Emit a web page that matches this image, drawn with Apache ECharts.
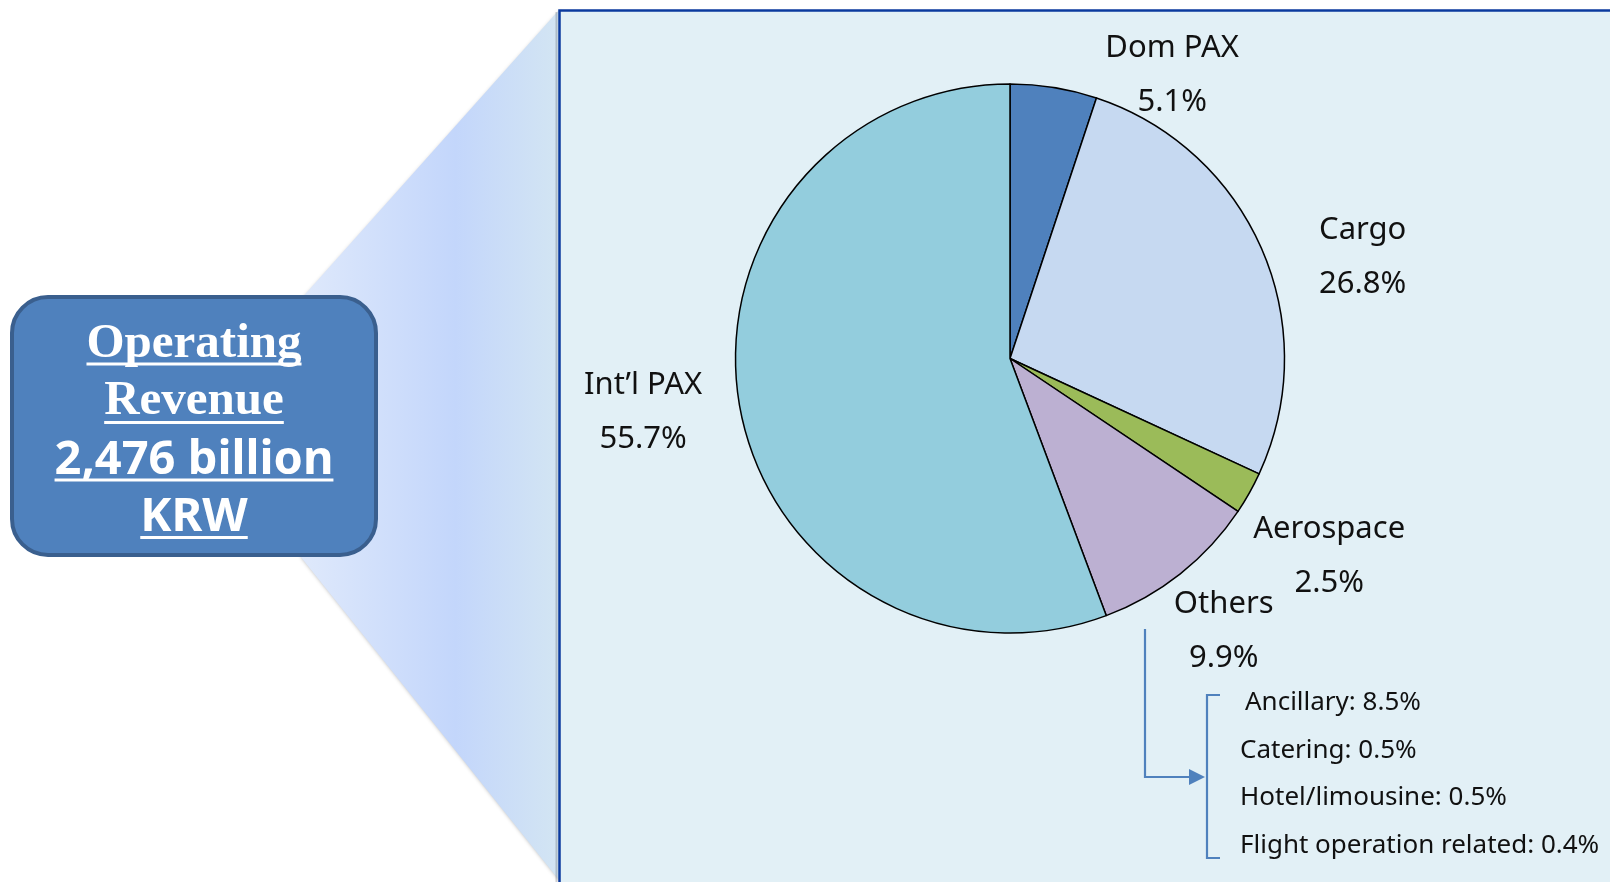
<!DOCTYPE html>
<html>
<head>
<meta charset="utf-8">
<script src="https://cdn.jsdelivr.net/npm/echarts@6.0.0/dist/echarts.min.js"></script>
<style>
html,body{margin:0;padding:0;background:#ffffff;}
#chart{width:1610px;height:882px;}
</style>
</head>
<body>
<div id="chart"></div>
<script>
// ---- data ----
const categories = ["Dom PAX", "Cargo", "Aerospace", "Others", "Int\u2019l PAX"];
const shares = [5.1, 26.8, 2.5, 9.9, 55.7];
const othersNames = ["Ancillary", "Catering", "Hotel/limousine", "Flight operation related"];
const othersShares = [8.5, 0.5, 0.5, 0.4];
const headlineLines = ["Operating", "Revenue", "2,476 billion", "KRW"];

// ---- styling / layout ----
const sliceColors = ["#4F81BD", "#C6D9F1", "#9BBB59", "#BCB0D2", "#93CDDD"];
const cx = 1010, cy = 358.5, R = 274.5;
const labelAngleShift = [20.4, 7.1, 2.2, 0, 2.3];
const labelGap = [54, 93, 100, 70, 96];
const labelDropY = 2;
const total = shares.reduce((a, b) => a + b, 0);

const measureCtx = document.createElement('canvas').getContext('2d');
function textWidth(str, font) { measureCtx.font = font; return measureCtx.measureText(str).width; }

const headFonts = [
  {family: "'Liberation Serif', 'Times New Roman', serif", size: 49},
  {family: "'Liberation Serif', 'Times New Roman', serif", size: 49},
  {family: "'Noto Sans', sans-serif", size: 47},
  {family: "'Noto Sans', sans-serif", size: 47}
];
const headMid = [344, 401, 461, 518];
const headUnder = [364, 422.5, 480, 537.5];
const boxCx = 194;

const graphics = [];
// zoom trapezoid
graphics.push({
  type: 'polygon', z: 0,
  shape: {points: [[300, 300], [559, 10], [559, 880], [300, 556]]},
  style: {
    fill: new echarts.graphic.LinearGradient(0, 0, 1, 0, [
      {offset: 0, color: '#DFE9FB'},
      {offset: 0.6, color: '#C3D6FB'},
      {offset: 1, color: '#D3E5F3'}
    ]),
    shadowBlur: 4, shadowColor: 'rgba(0,0,0,0.4)', shadowOffsetX: 2, shadowOffsetY: 1
  }
});
// panel
graphics.push({type: 'line', z: 0, shape: {x1: 556.5, y1: 12, x2: 556.5, y2: 882}, style: {stroke: 'rgba(0,0,0,0.18)', lineWidth: 2}});
graphics.push({type: 'rect', z: 0, shape: {x: 559, y: 10, width: 1060, height: 880}, style: {fill: '#E2F0F6'}});
graphics.push({type: 'polyline', z: 1, shape: {points: [[559.5, 882], [559.5, 10.5], [1610, 10.5]]}, style: {stroke: '#0B3A9E', lineWidth: 2.5, fill: null}});
// headline box
graphics.push({type: 'rect', z: 1, shape: {x: 12, y: 297, width: 364, height: 258, r: 36}, style: {fill: '#4F81BD', stroke: '#3A5F8E', lineWidth: 4}});
headlineLines.forEach((t, i) => {
  const f = headFonts[i];
  const fontStr = 'bold ' + f.size + 'px ' + f.family;
  const w = textWidth(t, fontStr);
  graphics.push({type: 'text', z: 1, style: {text: t, x: boxCx, y: headMid[i], fill: '#ffffff', font: fontStr, align: 'center', verticalAlign: 'middle'}});
  graphics.push({type: 'line', z: 1, shape: {x1: boxCx - w / 2, y1: headUnder[i], x2: boxCx + w / 2, y2: headUnder[i]}, style: {stroke: '#ffffff', lineWidth: 3}});
});
// breakdown connector
const conn = '#4F81BD';
graphics.push({type: 'polyline', z: 1, shape: {points: [[1145, 629], [1145, 777], [1191, 777]]}, style: {stroke: conn, lineWidth: 2.2, fill: null}});
graphics.push({type: 'polygon', z: 1, shape: {points: [[1189, 769], [1205, 777], [1189, 785]]}, style: {fill: conn}});
graphics.push({type: 'polyline', z: 1, shape: {points: [[1220, 695], [1207, 695], [1207, 858], [1220, 858]]}, style: {stroke: conn, lineWidth: 2.2, fill: null}});
const subY = [703, 751, 798, 846];
const subX = [1245, 1240, 1240, 1240];
othersNames.forEach((n, i) => {
  graphics.push({type: 'text', z: 1, style: {text: n + ': ' + othersShares[i].toFixed(1) + '%', x: subX[i], y: subY[i], fill: '#111111', font: "26px 'Noto Sans', sans-serif", align: 'left', verticalAlign: 'middle'}});
});

const chart = echarts.init(document.getElementById('chart'), null, {renderer: 'canvas'});
chart.setOption({
  animation: false,
  backgroundColor: '#ffffff',
  graphic: {elements: graphics},
  series: [{
    type: 'pie',
    z: 2,
    center: [cx, cy],
    radius: R,
    startAngle: 90,
    clockwise: true,
    avoidLabelOverlap: false,
    silent: true,
    data: categories.map((c, i) => ({name: c, value: shares[i], itemStyle: {color: sliceColors[i]}})),
    itemStyle: {borderColor: '#000000', borderWidth: 1.5},
    label: {
      show: true,
      position: 'outside',
      formatter: p => p.name + '\n' + p.value.toFixed(1) + '%',
      fontFamily: "'Noto Sans', sans-serif",
      fontSize: 31,
      lineHeight: 54,
      color: '#111111'
    },
    labelLine: {show: false},
    labelLayout: function (p) {
      const i = p.dataIndex;
      let before = 0;
      for (let j = 0; j < i; j++) before += shares[j];
      const ang = ((before + shares[i] / 2) / total * 360 + labelAngleShift[i]) * Math.PI / 180;
      const d = R + labelGap[i];
      return {x: cx + d * Math.sin(ang), y: cy - d * Math.cos(ang) + labelDropY, align: 'center', verticalAlign: 'middle'};
    }
  }]
});
</script>
</body>
</html>
